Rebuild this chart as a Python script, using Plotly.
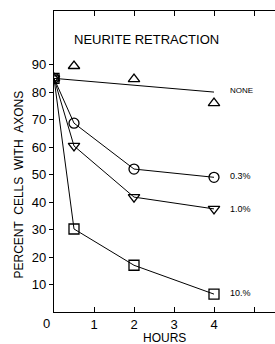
import plotly.graph_objects as go

hours = [0, 0.5, 2, 4]
none_vals = [85, 89.5, 84.7, 76]
none_fit_x = [0, 4]
none_fit_y = [85, 80]
p03_vals = [85, 68.7, 52, 49]
p10_vals = [85, 60.4, 41.8, 37.5]
p100_vals = [85, 30.2, 17, 6.5]

labels = ["NONE", "0.3%", "1.0%", "10.%"]
label_y = [80.5, 49.5, 37.5, 6.8]

FONT = "Liberation Sans"
fig = go.Figure()
fig.add_trace(go.Scatter(x=none_fit_x, y=none_fit_y, mode="lines",
                         line=dict(color="black", width=1), showlegend=False))
fig.add_trace(go.Scatter(x=hours, y=none_vals, mode="markers",
                         marker=dict(symbol="triangle-up-open", size=10, color="black", line=dict(width=1.3)),
                         showlegend=False))
for vals, sym in [(p03_vals, "circle-open"), (p10_vals, "triangle-down-open"), (p100_vals, "square-open")]:
    fig.add_trace(go.Scatter(x=hours, y=vals, mode="lines+markers",
                             line=dict(color="black", width=1),
                             marker=dict(symbol=sym, size=10, color="black", line=dict(width=1.3)),
                             showlegend=False))

for t, yv in zip(labels, label_y):
    fig.add_annotation(x=4.35, y=yv, text=t, showarrow=False, xanchor="left",
                       font=dict(family=FONT, size=8 if t == "NONE" else 9, color="black"))

fig.add_annotation(x=2.3, y=99, text="NEURITE RETRACTION", showarrow=False,
                   font=dict(family=FONT, size=13, color="black"))
fig.add_annotation(xref="paper", yref="paper", x=-0.058, y=0, yshift=-2, text="0",
                   showarrow=False, yanchor="top",
                   font=dict(family=FONT, size=13, color="black"))
fig.add_annotation(xref="paper", yref="paper", x=0.502, y=0, yshift=-17, text="HOURS",
                   showarrow=False, yanchor="top",
                   font=dict(family=FONT, size=12, color="black"))
fig.add_annotation(xref="paper", yref="paper", x=-0.197, y=0.425, textangle=-90,
                   text="PERCENT &nbsp;CELLS &nbsp;WITH &nbsp;AXONS", showarrow=False,
                   font=dict(family=FONT, size=12, color="black"))

fig.update_xaxes(range=[0, 5.525], tickvals=[1, 2, 3, 4, 5], ticktext=["1", "2", "3", "4", ""],
                 ticks="inside", ticklen=5, tickcolor="black", showline=True, linecolor="black",
                 linewidth=1.3, mirror="ticks", showgrid=False, zeroline=False,
                 tickfont=dict(family=FONT, size=13, color="black"))
fig.update_yaxes(range=[0, 109.5], tickvals=[10, 20, 30, 40, 50, 60, 70, 80, 90],
                 ticks="outside", ticklen=4, tickcolor="black", showline=True, linecolor="black",
                 linewidth=1.3, showgrid=False, zeroline=False,
                 tickfont=dict(family=FONT, size=13, color="black"))

fig.update_layout(width=275, height=344, margin=dict(l=54, r=0, t=11, b=32),
                  plot_bgcolor="white", paper_bgcolor="white")
fig.write_html("out.html", config={"displayModeBar": False},
               post_script="document.body.style.margin='0';document.body.style.overflow='hidden';")
